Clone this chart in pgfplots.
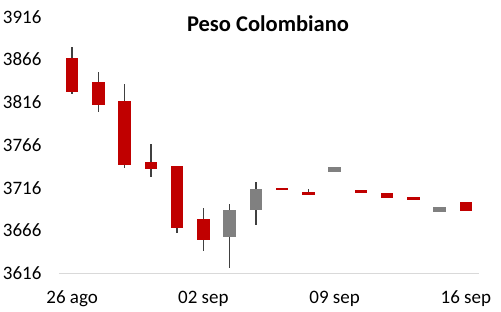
\documentclass[border=0pt]{standalone}
\usepackage{pgfplots}
\pgfplotsset{compat=1.18}
\usepackage{fontspec}
\setmainfont{Carlito}
\definecolor{cRed}{HTML}{C00000}
\definecolor{cGray}{HTML}{808080}
\definecolor{wick}{HTML}{404040}
\definecolor{axgray}{HTML}{D9D9D9}
\begin{document}
\begin{tikzpicture}
\useasboundingbox (0,0) rectangle (501bp,312bp);
\begin{axis}[
  at={(59bp,38.7bp)}, anchor=south west,
  scale only axis, width=420bp, height=256.6bp,
  xmin=-0.5, xmax=15.5, ymin=3616, ymax=3916,
  axis x line*=bottom, axis y line*=left,
  x axis line style={-, draw=axgray, line width=1bp},
  y axis line style={draw=none},
  ytick={3616,3666,3716,3766,3816,3866,3916},
  ytick style={draw=none},
  xtick={0,5,10,15},
  xticklabels={26 ago,02 sep,09 sep,16 sep},
  xtick style={draw=none},
  extra x ticks={-0.5,0.5,1.5,2.5,3.5,4.5,5.5,6.5,7.5,8.5,9.5,10.5,11.5,12.5,13.5,14.5,15.5},
  extra x tick labels={},
  extra x tick style={tick style={draw=axgray, line width=1bp}, major tick length=4bp, tick align=outside},
  tick label style={font=\fontsize{19bp}{22bp}\selectfont},
  /pgf/number format/assume math mode=true,
  /pgf/number format/1000 sep={},
  yticklabel style={anchor=east, inner sep=0pt, xshift=-17.3bp},
  xticklabel style={anchor=base, inner sep=0pt, yshift=-29.7bp},
  clip=false,
]
% wicks: (index, (high+low)/2) +- (0, (high-low)/2)
\addplot[draw=none, mark=none, error bars/.cd, y dir=both, y explicit, error mark=none,
  error bar style={draw=wick, line width=1.6bp}] coordinates {
  (0,3853) +- (0,27)
  (1,3828) +- (0,23)
  (2,3788) +- (0,49)
  (3,3748) +- (0,19)
  (4,3702) +- (0,39)
  (5,3667) +- (0,25)
  (6,3659.5) +- (0,37.5)
  (7,3697.5) +- (0,25.5)
  (9,3711.5) +- (0,3.5)
};
% red bodies (falling): (index, (open+close)/2) +- (0, |open-close|/2)
\addplot[draw=none, mark=none, error bars/.cd, y dir=both, y explicit, error mark=none,
  error bar style={draw=cRed, line width=12.6bp}] coordinates {
  (0,3848) +- (0,20)
  (1,3826.5) +- (0,13.5)
  (2,3780) +- (0,37)
  (3,3742) +- (0,4)
  (4,3705) +- (0,36)
  (5,3667.5) +- (0,12.5)
  (8,3714.5) +- (0,1.5)
  (9,3709.5) +- (0,1.5)
  (11,3711.5) +- (0,1.5)
  (12,3707) +- (0,3)
  (13,3703.5) +- (0,1.5)
  (15,3694) +- (0,5)
};
% gray bodies (rising)
\addplot[draw=none, mark=none, error bars/.cd, y dir=both, y explicit, error mark=none,
  error bar style={draw=cGray, line width=12.6bp}] coordinates {
  (6,3674) +- (0,16)
  (7,3702) +- (0,12)
  (10,3737.5) +- (0,2.5)
  (14,3690.5) +- (0,2.5)
};
\end{axis}
\node[anchor=base, font=\bfseries\fontsize{22.5bp}{26bp}\selectfont] at (268bp,280.3bp) {Peso Colombiano};
\end{tikzpicture}
\end{document}
